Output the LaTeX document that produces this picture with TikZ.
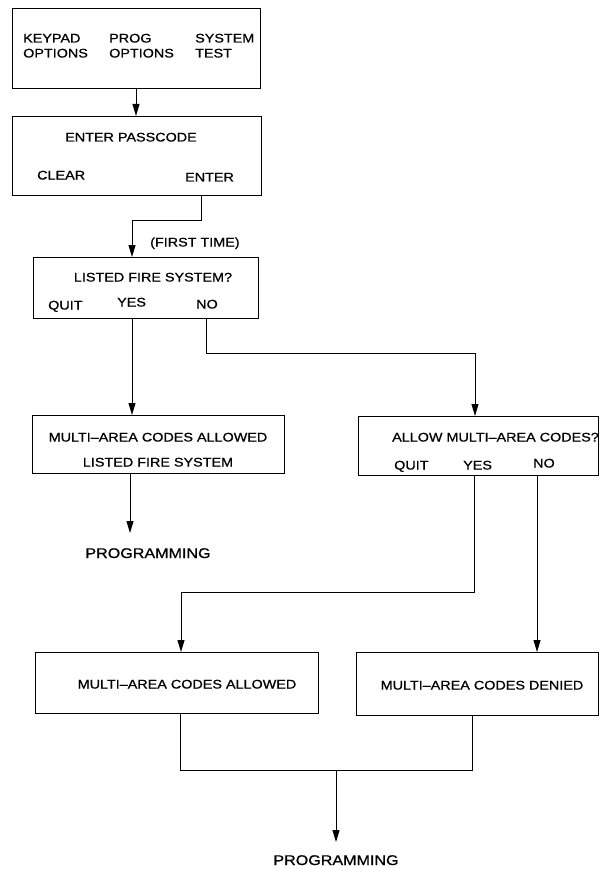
\documentclass[tikz,border=0pt]{standalone}
\usepackage{fontspec}
\setmainfont{Liberation Sans}
\newfontfamily\diagfont{Liberation Sans}[FakeStretch=1.15, FakeBold=0.8]
\usetikzlibrary{arrows.meta}
\tikzset{
  box/.style={draw, line width=1.1pt, rectangle, inner sep=0pt, anchor=north west},
  lbl/.style={inner sep=0pt, text height=9pt, text depth=0pt, font=\diagfont\fontsize{12.5}{15}\selectfont},
  big/.style={inner sep=0pt, text height=10pt, text depth=0pt, font=\diagfont\fontsize{14}{17}\selectfont},
  conn/.style={line width=1pt},
  arr/.style={line width=1pt, -{Triangle[width=7pt,length=12pt]}}
}
\begin{document}
\begin{tikzpicture}[x=1pt,y=-1pt]
\useasboundingbox (0,0) rectangle (599,869);
% boxes
\node[box, minimum width=248pt, minimum height=80pt] (b1) at (12,8) {};
\node[box, minimum width=249pt, minimum height=79pt] (b2) at (12,116) {};
\node[box, minimum width=225pt, minimum height=61pt] (b3) at (33,257) {};
\node[box, minimum width=252pt, minimum height=58pt] (b4) at (32,415) {};
\node[box, minimum width=240pt, minimum height=59pt] (b5) at (358,416) {};
\node[box, minimum width=283pt, minimum height=61pt] (b6) at (35,652) {};
\node[box, minimum width=242pt, minimum height=63pt] (b7) at (356,652) {};
% texts
\node[lbl, anchor=west] (t1a) at (23,38) {KEYPAD};
\node[lbl, anchor=west] (t1b) at (23,53) {OPTIONS};
\node[lbl, anchor=west] (t1c) at (109,38) {PROG};
\node[lbl, anchor=west] (t1d) at (109,53) {OPTIONS};
\node[lbl, anchor=west] (t1e) at (195,38) {SYSTEM};
\node[lbl, anchor=west] (t1f) at (195,53) {TEST};
\node[lbl] (t2a) at (131,137) {ENTER PASSCODE};
\node[lbl, anchor=west] (t2b) at (37,175) {CLEAR};
\node[lbl, anchor=west] (t2c) at (185,177) {ENTER};
\node[lbl, anchor=west] (ft) at (150,242) {(FIRST TIME)};
\node[lbl] (t3a) at (153,277) {LISTED FIRE SYSTEM?};
\node[lbl, anchor=west] (t3b) at (48,305) {QUIT};
\node[lbl, anchor=west] (t3c) at (117,302) {YES};
\node[lbl, anchor=west] (t3d) at (196,304) {NO};
\node[lbl] (t4a) at (158,437) {MULTI\textendash AREA CODES ALLOWED};
\node[lbl] (t4b) at (158,462) {LISTED FIRE SYSTEM};
\node[big] (pg1) at (148,553) {PROGRAMMING};
\node[lbl, anchor=west] (t5a) at (392,437) {ALLOW MULTI\textendash AREA CODES?};
\node[lbl, anchor=west] (t5b) at (394,465) {QUIT};
\node[lbl, anchor=west] (t5c) at (463,465) {YES};
\node[lbl, anchor=west] (t5d) at (533,463) {NO};
\node[lbl] (t6) at (187,684) {MULTI\textendash AREA CODES ALLOWED};
\node[lbl] (t7) at (482,685) {MULTI\textendash AREA CODES DENIED};
\node[big] (pg2) at (336,860) {PROGRAMMING};
% column coordinates
\coordinate (x130) at (130,0);
\coordinate (x132) at (132,0);
\coordinate (x136) at (136,0);
\coordinate (x180) at (180,0);
\coordinate (x181) at (181,0);
\coordinate (x201) at (201,0);
\coordinate (x206) at (206,0);
\coordinate (x336) at (336,0);
\coordinate (x472) at (472,0);
\coordinate (x474) at (474,0);
\coordinate (x475) at (475,0);
\coordinate (x537) at (537,0);
\coordinate (end1) at (130,533);
\coordinate (end2) at (336,842);
% connectors
\draw[arr] (b1.south -| x136) -- (b2.north -| x136);
\draw[arr] (b2.south -| x201) -- (201,220) -- (132,220) -- (b3.north -| x132);
\draw[arr] (b3.south -| x132) -- (b4.north -| x132);
\draw[arr] (b3.south -| x206) -- (206,353) -- (475,353) -- (b5.north -| x475);
\draw[arr] (b4.south -| x130) -- (end1);
\draw[arr] (b5.south -| x474) -- (474,592) -- (181,592) -- (b6.north -| x181);
\draw[arr] (b5.south -| x537) -- (b7.north -| x537);
\draw[conn] (b6.south -| x180) -- (180,770) -- (472,770) -- (b7.south -| x472);
\draw[arr] (336,770) -- (end2);
\end{tikzpicture}
\end{document}
